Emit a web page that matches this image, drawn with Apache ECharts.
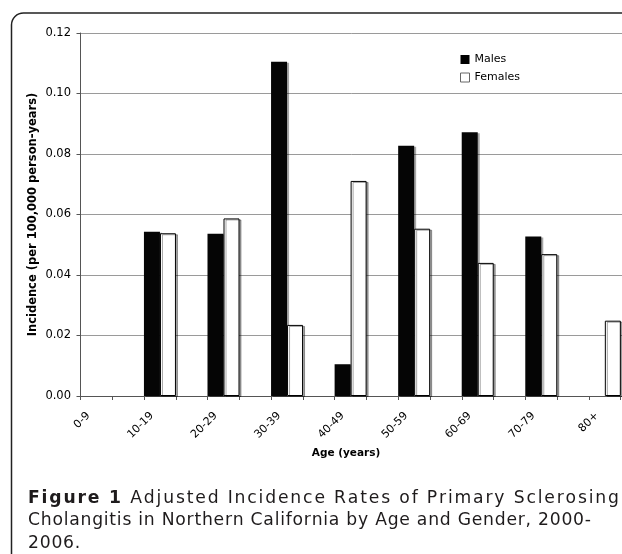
<!DOCTYPE html>
<html><head><meta charset="utf-8">
<script src="https://cdn.jsdelivr.net/npm/echarts@6/dist/echarts.min.js"></script>
<style>html,body{margin:0;padding:0;background:#fff}#c{width:622px;height:554px}</style>
</head><body><div id="c"></div>
<script>
const categories = ['0-9', '10-19', '20-29', '30-39', '40-49', '50-59', '60-69', '70-79', '80+'];
const males   = [0, 0.0543, 0.0536, 0.1105, 0.0105, 0.0827, 0.0872, 0.0527, 0];
const females = [0, 0.0538, 0.0587, 0.0235, 0.0711, 0.0553, 0.0440, 0.0469, 0.0249];
const yTickLabels = ['0.00', '0.02', '0.04', '0.06', '0.08', '0.10', '0.12'];
const seriesNames = ['Males', 'Females'];
const xTitle = 'Age (years)';
const yTitle = 'Incidence (per 100,000 person-years)';
const captionBold = 'Figure 1';
const captionLine1 = ' Adjusted Incidence Rates of Primary Sclerosing';
const captionLine2 = 'Cholangitis in Northern California by Age and Gender, 2000-';
const captionLine3 = '2006.';

// Each category spans two half-bands on the axis: bars in the first, empty gap in the second.
const halfBands = categories.flatMap(c => [c, c + ' ']);
const spread = arr => arr.flatMap(v => [
  {value: v, itemStyle: v === 0 ? {borderWidth: 0, shadowColor: 'rgba(0,0,0,0)'} : undefined},
  null
]);
const labelPos = i => 2 * i + 0.25;

const chart = echarts.init(document.getElementById('c'), null, {renderer: 'canvas'});

// caption, set character by character with letter spacing to fill the measured line widths
const capFont = '"DejaVu Sans", sans-serif';
const capSize = 17.2;
const capColor = '#1e1b1c';
const ctx = document.createElement('canvas').getContext('2d');
const fontOf = b => (b ? 'bold ' : '') + capSize + 'px ' + capFont;
function cw(ch, b) { ctx.font = fontOf(b); return ctx.measureText(ch).width; }
const capGraphics = [];
function spacedLine(runs, xStart, xEnd, y, fixedSp) {
  const chars = [];
  runs.forEach(r => Array.from(r.t).forEach(ch => chars.push({ch, b: r.b})));
  const total = chars.reduce((s, o) => s + cw(o.ch, o.b), 0);
  const sp = fixedSp !== undefined ? fixedSp : (xEnd - xStart - total) / (chars.length - 1);
  let cx = xStart;
  chars.forEach(o => {
    if (o.ch !== ' ') capGraphics.push({type: 'text', x: cx, y: y, silent: true,
      style: {text: o.ch, font: fontOf(o.b), fill: capColor, verticalAlign: 'alphabetic'}});
    cx += cw(o.ch, o.b) + sp;
  });
  return sp;
}
spacedLine([{t: captionBold, b: true}, {t: captionLine1, b: false}], 28, 619, 490);
const sp2 = spacedLine([{t: captionLine2, b: false}], 28, 591, 512.5);
spacedLine([{t: captionLine3, b: false}], 28, 0, 535, sp2);

const barShadow = {shadowColor: 'rgba(0,0,0,0.35)', shadowOffsetX: 2, shadowOffsetY: 1, shadowBlur: 0};

chart.setOption({
  animation: false,
  backgroundColor: '#fff',
  grid: {left: 80.5, top: 33, width: 572, height: 363, containLabel: false, outerBoundsMode: 'none'},
  legend: {
    orient: 'vertical', left: 455, top: 49, itemWidth: 9, itemHeight: 9, itemGap: 7,
    textStyle: {fontFamily: 'DejaVu Sans', fontSize: 11, color: '#000'},
    data: [
      {name: seriesNames[0], icon: 'rect', itemStyle: {color: '#000', borderWidth: 0, shadowBlur: 0, shadowOffsetX: 0, shadowOffsetY: 0}},
      {name: seriesNames[1], icon: 'rect', itemStyle: {color: '#fff', borderColor: '#666', borderWidth: 1, shadowBlur: 0, shadowOffsetX: 0, shadowOffsetY: 0}}
    ]
  },
  xAxis: [
    {
      type: 'category', data: halfBands, boundaryGap: true,
      axisLine: {show: true, lineStyle: {color: '#555', width: 1}},
      axisTick: {show: true, length: 4, interval: 0, lineStyle: {color: '#555'}},
      axisLabel: {show: false},
      splitLine: {show: false}
    },
    {
      type: 'value', min: 0, max: 18, interval: 0.25, position: 'bottom',
      axisLine: {show: false}, axisTick: {show: false}, splitLine: {show: false},
      axisLabel: {
        rotate: 45, margin: 18, fontFamily: 'DejaVu Sans', fontSize: 11, color: '#000',
        formatter: v => {
          for (let i = 0; i < categories.length; i++) if (Math.abs(v - labelPos(i)) < 1e-6) return categories[i];
          return '';
        }
      },
      name: xTitle, nameLocation: 'middle', nameGap: 51,
      nameTextStyle: {fontFamily: 'DejaVu Sans', fontWeight: 'bold', fontSize: 10.5, color: '#000', padding: [0, 41, 0, 0]}
    }
  ],
  yAxis: {
    type: 'value', min: 0, max: 0.12, interval: 0.02,
    axisLine: {show: true, lineStyle: {color: '#555', width: 1}},
    axisTick: {show: true, length: 4, lineStyle: {color: '#555'}},
    axisLabel: {margin: 9.5, fontFamily: 'DejaVu Sans', fontSize: 11.5, color: '#000',
      formatter: v => yTickLabels[Math.round(v / 0.02)]},
    splitLine: {show: true, lineStyle: {color: '#9a9a9a', width: 1}},
    name: yTitle, nameLocation: 'middle', nameGap: 41, nameMoveOverlap: false,
    nameTextStyle: {fontFamily: 'DejaVu Sans', fontWeight: 'bold', fontSize: 11.5, color: '#000'}
  },
  series: [
    {
      name: seriesNames[0], type: 'bar', xAxisIndex: 0, barWidth: 16, barGap: '0%',
      itemStyle: Object.assign({color: '#050505'}, barShadow),
      data: spread(males)
    },
    {
      name: seriesNames[1], type: 'bar', xAxisIndex: 0, barWidth: 16, barGap: '0%',
      itemStyle: Object.assign({color: '#fff', borderColor: '#000', borderWidth: 1}, barShadow),
      data: spread(females)
    }
  ],
  graphic: [
    {type: 'rect', shape: {x: 11.5, y: 13, width: 700, height: 700, r: 12}, style: {fill: null, stroke: '#222', lineWidth: 1.5}, z: -1, silent: true}
  ].concat(capGraphics)
});
</script></body></html>
